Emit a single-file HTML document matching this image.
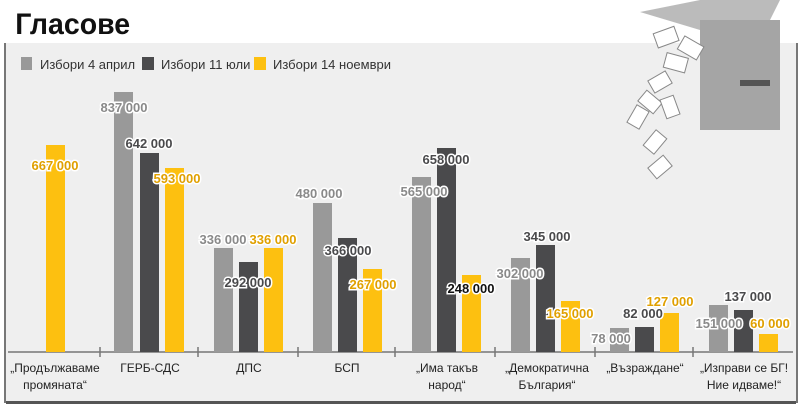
<!DOCTYPE html>
<html><head><meta charset="utf-8"><style>
body{margin:0;width:800px;height:410px;background:#fff;overflow:hidden;font-family:"Liberation Sans",sans-serif}
</style></head><body>
<svg width="800" height="410" xmlns="http://www.w3.org/2000/svg" font-family="Liberation Sans, sans-serif">
<rect x="0" y="0" width="800" height="410" fill="#fff"/>
<rect x="6" y="43" width="790" height="358" fill="#efefef"/>
<rect x="6" y="401" width="790" height="3" fill="#555"/>
<rect x="4" y="43" width="2" height="360" fill="#777"/>
<rect x="796" y="43" width="2" height="360" fill="#777"/>
<text x="16" y="34" font-size="30" font-weight="bold" fill="#111" transform="scale(0.95,1)">Гласове</text>
<!-- legend -->
<rect x="21" y="57" width="11" height="13" fill="#999"/>
<text x="40" y="69" font-size="13" fill="#333">Избори 4 април</text>
<rect x="142" y="57" width="12" height="13" fill="#4a4a4c"/>
<text x="161" y="69" font-size="13" fill="#333">Избори 11 юли</text>
<rect x="254" y="57" width="12" height="13" fill="#fdc010"/>
<text x="273" y="69" font-size="13" fill="#333">Избори 14 ноември</text>
<!-- ballot box -->
<g>
<polygon points="640,12 700,0 780,0 770,20 700,30" fill="#bbb"/>
<rect x="700" y="20" width="80" height="110" fill="#a5a5a5"/>
<rect x="740" y="80" width="30" height="6" fill="#555"/>
<g fill="#fff" stroke="#888" stroke-width="1">
<rect x="655" y="30" width="22" height="15" transform="rotate(-20 665 37)"/>
<rect x="665" y="55" width="22" height="15" transform="rotate(15 675 62)"/>
<rect x="650" y="75" width="20" height="14" transform="rotate(-30 660 82)"/>
<rect x="640" y="95" width="20" height="14" transform="rotate(40 650 102)"/>
<rect x="628" y="110" width="20" height="14" transform="rotate(-60 638 117)"/>
<rect x="660" y="100" width="20" height="14" transform="rotate(70 670 107)"/>
<rect x="645" y="135" width="20" height="14" transform="rotate(-50 655 142)"/>
<rect x="650" y="160" width="20" height="14" transform="rotate(-40 660 167)"/>
<rect x="680" y="40" width="22" height="15" transform="rotate(30 690 47)"/>
</g>
</g>
<!-- axis -->
<line x1="8" y1="352" x2="793" y2="352" stroke="#777" stroke-width="1.5"/>
<g stroke="#777" stroke-width="1.5">
<line x1="100" y1="347" x2="100" y2="357"/><line x1="198" y1="347" x2="198" y2="357"/>
<line x1="298" y1="347" x2="298" y2="357"/><line x1="395" y1="347" x2="395" y2="357"/>
<line x1="495" y1="347" x2="495" y2="357"/><line x1="595" y1="347" x2="595" y2="357"/>
<line x1="693" y1="347" x2="693" y2="357"/>
</g>
<!-- bars -->
<g>
<rect x="46" y="145" width="19" height="207" fill="#fdc010"/>
<rect x="114" y="92" width="19" height="260" fill="#999"/>
<rect x="140" y="153" width="19" height="199" fill="#4a4a4c"/>
<rect x="165" y="168" width="19" height="184" fill="#fdc010"/>
<rect x="214" y="248" width="19" height="104" fill="#999"/>
<rect x="239" y="262" width="19" height="90" fill="#4a4a4c"/>
<rect x="264" y="248" width="19" height="104" fill="#fdc010"/>
<rect x="313" y="203" width="19" height="149" fill="#999"/>
<rect x="338" y="238" width="19" height="114" fill="#4a4a4c"/>
<rect x="363" y="269" width="19" height="83" fill="#fdc010"/>
<rect x="412" y="177" width="19" height="175" fill="#999"/>
<rect x="437" y="148" width="19" height="204" fill="#4a4a4c"/>
<rect x="462" y="275" width="19" height="77" fill="#fdc010"/>
<rect x="511" y="258" width="19" height="94" fill="#999"/>
<rect x="536" y="245" width="19" height="107" fill="#4a4a4c"/>
<rect x="561" y="301" width="19" height="51" fill="#fdc010"/>
<rect x="610" y="328" width="19" height="24" fill="#999"/>
<rect x="635" y="327" width="19" height="25" fill="#4a4a4c"/>
<rect x="660" y="313" width="19" height="39" fill="#fdc010"/>
<rect x="709" y="305" width="19" height="47" fill="#999"/>
<rect x="734" y="310" width="19" height="42" fill="#4a4a4c"/>
<rect x="759" y="334" width="19" height="18" fill="#fdc010"/>
</g>
<!-- value labels -->
<g font-size="13" font-weight="bold" stroke="#fff" stroke-width="3" paint-order="stroke" text-anchor="middle">
<text x="55" y="170" fill="#e0a000">667 000</text>
<text x="124" y="112" fill="#8a8a8a">837 000</text>
<text x="149" y="148" fill="#4a4a4c">642 000</text>
<text x="177" y="183" fill="#e0a000">593 000</text>
<text x="223" y="244" fill="#8a8a8a">336 000</text>
<text x="248" y="287" fill="#4a4a4c">292 000</text>
<text x="273" y="244" fill="#e0a000">336 000</text>
<text x="319" y="198" fill="#8a8a8a">480 000</text>
<text x="348" y="255" fill="#4a4a4c">366 000</text>
<text x="373" y="289" fill="#e0a000">267 000</text>
<text x="424" y="196" fill="#8a8a8a">565 000</text>
<text x="446" y="164" fill="#4a4a4c">658 000</text>
<text x="471" y="293" fill="#111">248 000</text>
<text x="520" y="278" fill="#8a8a8a">302 000</text>
<text x="547" y="241" fill="#4a4a4c">345 000</text>
<text x="570" y="318" fill="#e0a000">165 000</text>
<text x="611" y="343" fill="#8a8a8a">78 000</text>
<text x="643" y="318" fill="#4a4a4c">82 000</text>
<text x="670" y="306" fill="#e0a000">127 000</text>
<text x="719" y="328" fill="#8a8a8a">151 000</text>
<text x="748" y="301" fill="#4a4a4c">137 000</text>
<text x="770" y="328" fill="#e0a000">60 000</text>
</g>
<!-- categories -->
<g font-size="12" fill="#222" text-anchor="middle">
<text x="55" y="372">„Продължаваме</text><text x="55" y="389">промяната“</text>
<text x="150" y="372">ГЕРБ-СДС</text>
<text x="249" y="372">ДПС</text>
<text x="347" y="372">БСП</text>
<text x="447" y="372">„Има такъв</text><text x="447" y="389">народ“</text>
<text x="547" y="372">„Демократична</text><text x="547" y="389">България“</text>
<text x="645" y="372">„Възраждане“</text>
<text x="744" y="372">„Изправи се БГ!</text><text x="744" y="389">Ние идваме!“</text>
</g>
</svg>
</body></html>
